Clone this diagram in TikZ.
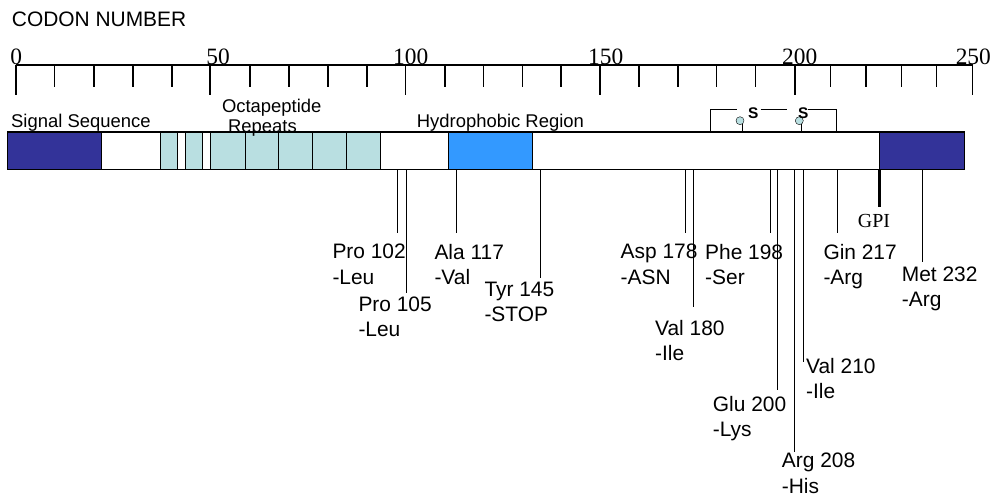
\documentclass[tikz,border=0pt]{standalone}
\usepackage{fontspec}
\setmainfont{Liberation Serif}
\setsansfont{Liberation Sans}
\usepackage{xcolor}
\definecolor{sigblue}{HTML}{333399}
\definecolor{hydblue}{HTML}{3399FF}
\definecolor{octcyan}{HTML}{B9DFE1}

\begin{document}
\begin{tikzpicture}[x=1bp, y=-1bp,
    mut/.style={font=\sffamily\fontsize{21}{25.3}\selectfont, align=left, anchor=north west, inner sep=0pt},
    dom/.style={font=\sffamily\fontsize{18.5}{20}\selectfont, anchor=base west, inner sep=0pt},
    num/.style={font=\fontsize{23.5}{24}\selectfont, anchor=base, inner sep=0pt}]
  \useasboundingbox (0,0) rectangle (993,497);
  \node[font=\sffamily\fontsize{21}{24}\selectfont, anchor=base west, inner sep=0pt] (title) at (11.7,26.7) {CODON NUMBER};
  % codon axis
  \draw[line width=1.3bp] (16,65) -- (972.7,65);
  \foreach \tx in {54.7,94,133,172,250,289,328,367,445,483.3,522.3,561,639,678,716.7,755.7,830.7,866,901.7,936.7}
    \draw[line width=1.1bp] (\tx,65) -- (\tx,87.3);
  \foreach \tx/\lx/\num in {16/16.3/0, 210/218/50, 405.7/410.7/100, 600/605.8/150, 795/799.7/200, 972.7/973.3/250}{
    \draw[line width=1.1bp] (\tx,65) -- (\tx,95);
    \node[num] (n\num) at (\lx,65) {\num};}
  % protein bar
  \foreach \a/\b/\c in {7.3/101/sigblue, 101/160/white, 160/177/octcyan, 177/185.3/white,
      185.3/202.7/octcyan, 202.7/210.7/white, 210.7/245/octcyan, 245/278.7/octcyan,
      278.7/312.7/octcyan, 312.7/346.7/octcyan, 346.7/380.3/octcyan, 380.3/448.3/white,
      448.3/532.3/hydblue, 532.3/879.3/white, 879.3/964.3/sigblue}
    \draw[fill=\c, line width=1bp] (\a,131.7) rectangle (\b,169.3);
  \node[draw, line width=1.1bp, inner sep=0pt, minimum width=957bp, minimum height=37.6bp, anchor=north west] (bar) at (7.3,131.7) {};
  \node[dom] (sig) at (11,128) {Signal Sequence};
  \node[dom, anchor=base] (oct1) at (271.7,113) {Octapeptide};
  \node[dom, anchor=base] (oct2) at (262.5,133) {Repeats};
  \node[dom] (hyd) at (416.7,128) {Hydrophobic Region};
  % disulfide bridge
  \draw[line width=1bp] (710,131.7) -- (710,109.3) -- (736.7,109.3) (760.7,109.3) -- (786.7,109.3)
    (808.3,109.3) -- (836.7,109.3) -- (836.7,131.7);
  \node[circle, draw, fill=octcyan, inner sep=0pt, minimum size=8bp] (c1) at (740,120.7) {};
  \node[circle, draw, fill=octcyan, inner sep=0pt, minimum size=8bp] (c2) at (799.3,120.7) {};
  \draw[line width=1bp] (c1.-60) -- (c1.-60 |- bar.north);
  \draw[line width=1bp] (c2.-60) -- (c2.-60 |- bar.north);
  \node[font=\sffamily\bfseries\fontsize{15.5}{16}\selectfont, inner sep=0pt] (s1) at (753.3,113.3) {S};
  \node[font=\sffamily\bfseries\fontsize{15.5}{16}\selectfont, inner sep=0pt] (s2) at (803.3,113.3) {S};
  % GPI anchor
  \coordinate (g) at (879.3,206.7);
  \draw[line width=3bp] (bar.south -| g) -- (g);
  \node[font=\fontsize{20}{22}\selectfont, anchor=base, inner sep=0pt] (gpi) at (874,228) {GPI};
  % mutations
  \foreach \mx/\my/\lx/\ly/\ta/\tb [count=\i] in {397.3/232.7/332.3/244/Pro 102/-Leu,
      406/292.7/358.3/296.7/Pro 105/-Leu, 456/232.7/434.3/244/Ala 117/-Val,
      540.7/278.3/484.3/281.7/Tyr 145/-STOP, 685/232.7/620.5/244/Asp 178/-ASN,
      693.3/306.7/655/320/Val 180/-Ile, 770/232.7/705/244/Phe 198/-Ser,
      777.7/390/712.7/395.7/Glu 200/-Lys, 794.3/451.7/781.7/453/Arg 208/-His,
      803.3/361.7/806/358.3/Val 210/-Ile, 837.3/232.7/823.3/244/Gin 217/-Arg,
      922.3/261.7/901.7/266.7/Met 232/-Arg}{
    \coordinate (e\i) at (\mx,\my);
    \node[mut] (m\i) at (\lx,\ly) {\ta\\\tb};
    \draw[line width=1bp] (bar.south -| e\i) -- (e\i);}
\end{tikzpicture}
\end{document}
